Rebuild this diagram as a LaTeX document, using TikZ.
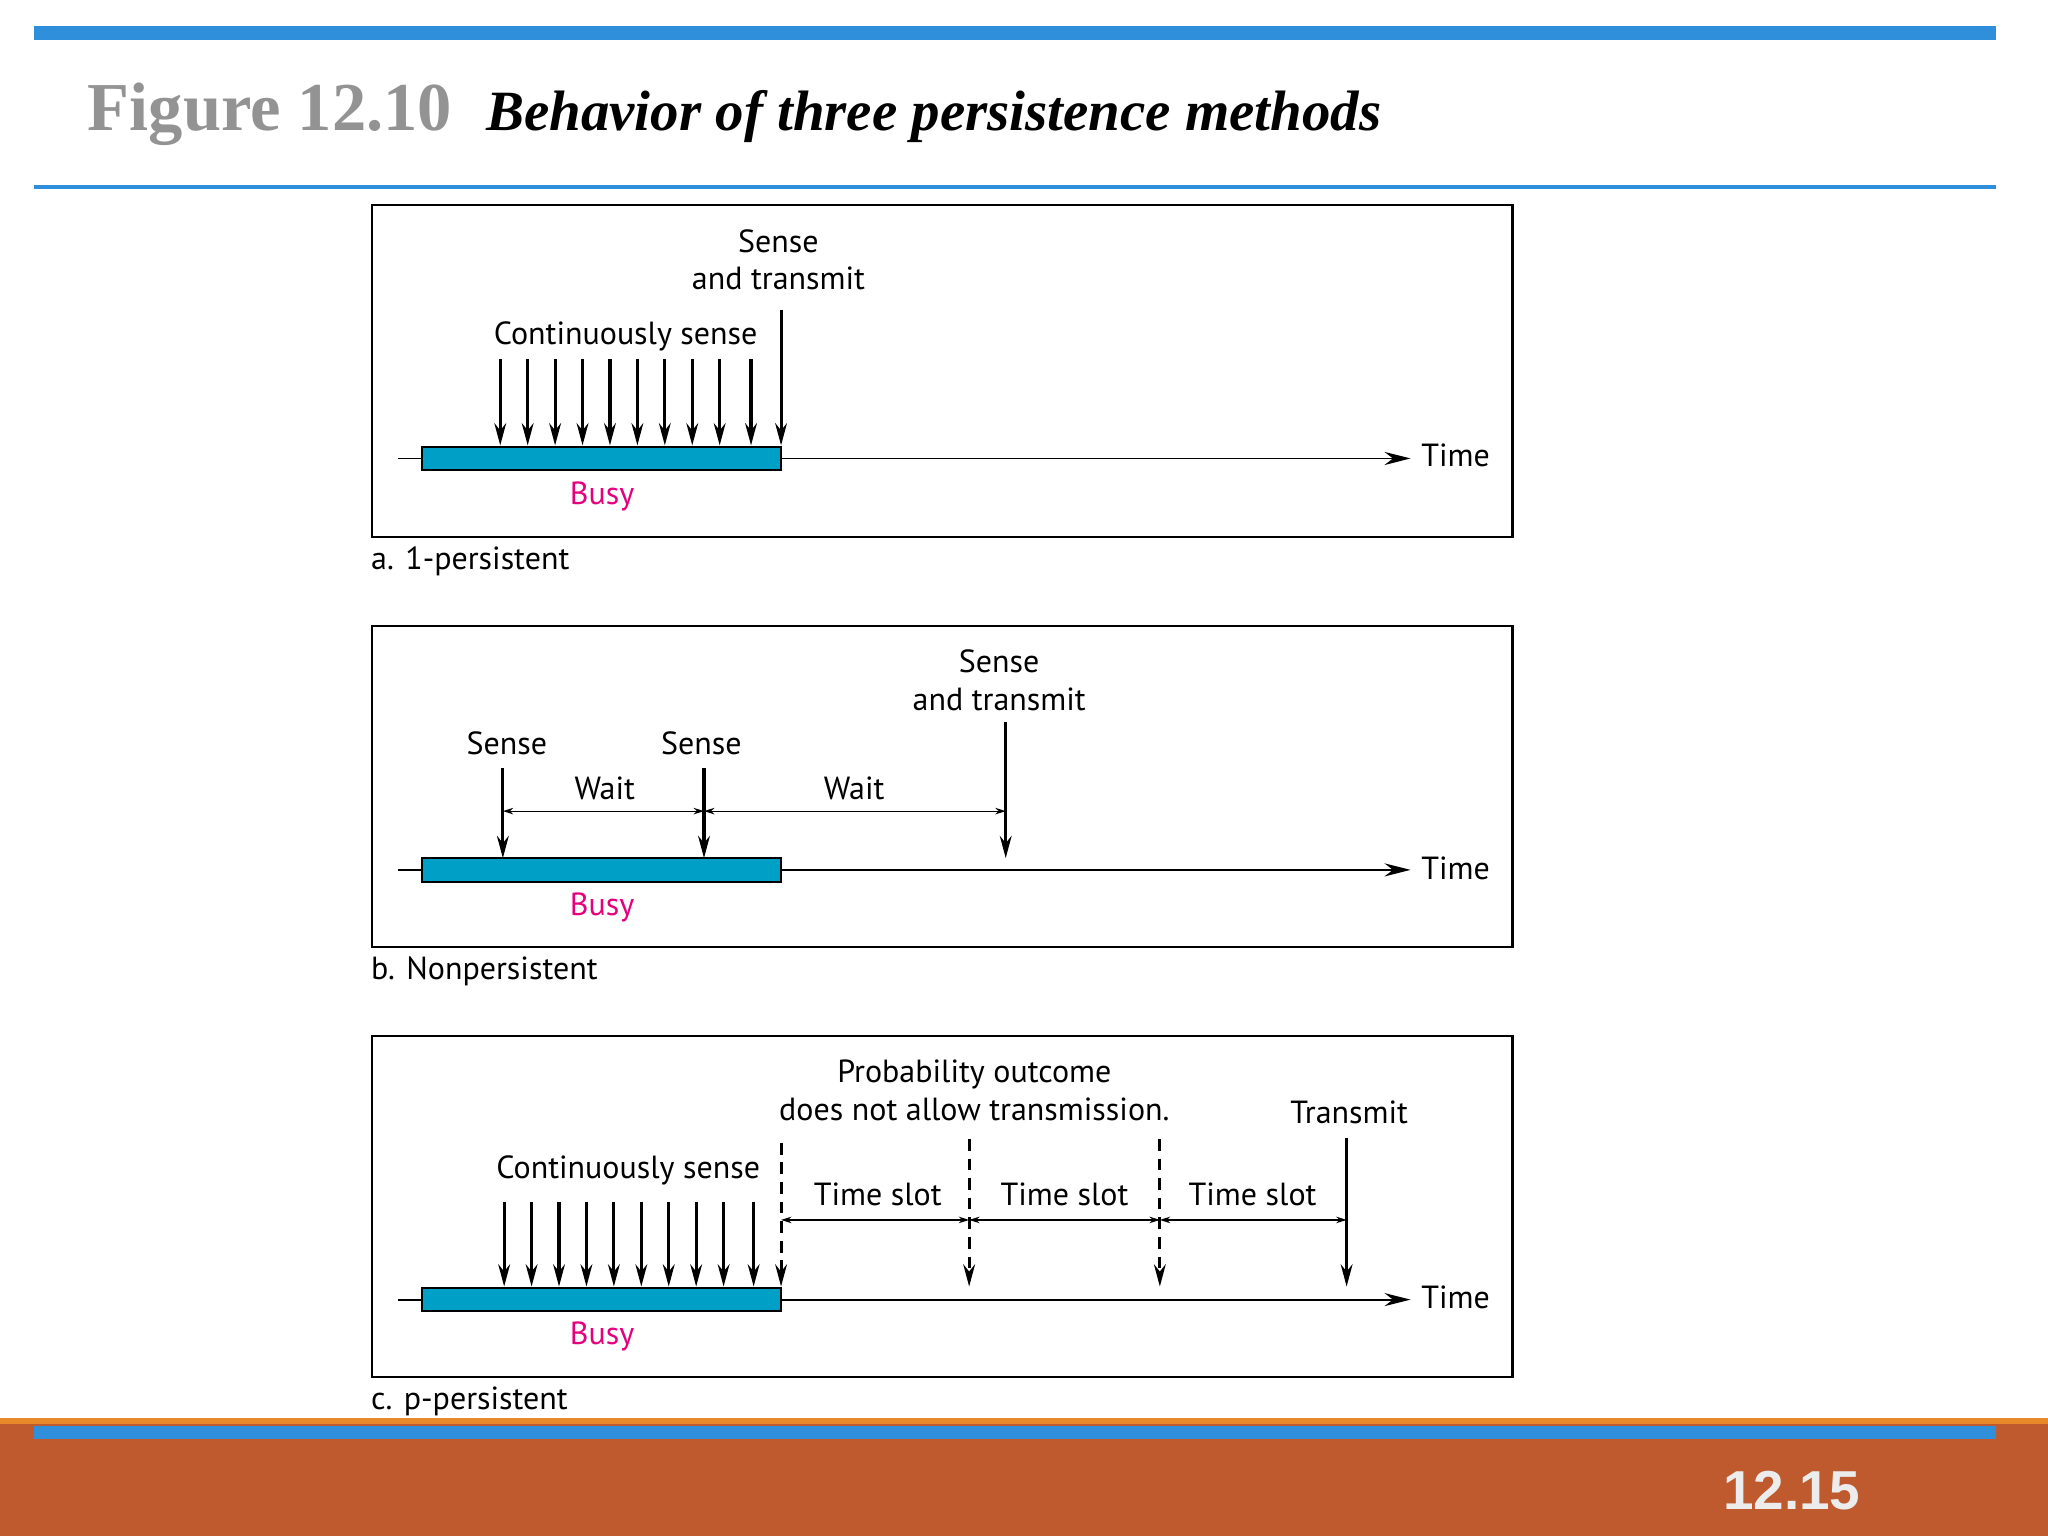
\documentclass[tikz,border=0pt]{standalone}
\usepackage{fontspec}
\setmainfont{PT Sans}
\newfontfamily\titlefont{Liberation Serif}
\newfontfamily\numfont{Liberation Sans}
\usetikzlibrary{arrows.meta}
\definecolor{barblue}{HTML}{2F8FDA}
\definecolor{busyc}{HTML}{00A0C6}
\definecolor{busyt}{HTML}{E5007E}
\definecolor{band}{HTML}{BE5A2E}
\definecolor{bandtop}{HTML}{E88A2A}
\begin{document}
\begin{tikzpicture}[x=1pt,y=-1pt,
  lbl/.style={font=\fontsize{24.5}{26}\selectfont,inner sep=0pt,anchor=base},
  busytxt/.style={lbl,text=busyt},
  panel/.style={draw,line width=1.6pt},
  busybox/.style={draw,line width=1.4pt,fill=busyc},
  tline/.style={line width=1.4pt,-{Stealth[length=20pt,width=10pt]}},
  sarr/.style={line width=2.4pt,-{Stealth[length=17pt,width=9pt]}},
  darr/.style={sarr,dashed,dash pattern=on 9pt off 6pt},
  dim/.style={line width=0.9pt,{Stealth[length=8pt,width=5pt]}-{Stealth[length=8pt,width=5pt]}}]
\useasboundingbox (0,0) rectangle (1568,1176);
% header
\fill[barblue] (26,20) rectangle (1528,31);
\fill[barblue] (26,141.5) rectangle (1528,144.5);
\node[anchor=base west,inner sep=0pt,text=gray!85,font=\titlefont\bfseries\fontsize{52.5}{54}\selectfont] (fig) at (67,100) {Figure 12.10};
\node[anchor=base west,inner sep=0pt,font=\titlefont\bfseries\itshape\fontsize{43.6}{46}\selectfont] (ttl) at (372,100) {Behavior of three persistence methods};
% footer
\fill[band] (0,1086) rectangle (1568,1176);
\fill[bandtop] (0,1086) rectangle (1568,1090);
\fill[barblue] (26,1092) rectangle (1528,1102);
\node[anchor=base west,inner sep=0pt,text=white!85!gray,font=\numfont\bfseries\fontsize{42}{46}\selectfont] (pg) at (1319,1156) {12.15};

% ===== panel a
\draw[panel] (285,157) rectangle (1158,411);
\coordinate (a0) at (305,351); \coordinate (a1) at (1080,351);
\draw[tline] (a0) -- (a1);
\node[lbl,anchor=west] (atime) at (1088,349) {Time};
\node[busybox,minimum width=275pt,minimum height=18pt,inner sep=0pt] (abusy) at (460.5,351) {};
\node[busytxt] (abt) at (461,386) {Busy};
\foreach \x [count=\i] in {383,404,425,446,467,488,509,530,551,575}{
  \coordinate (as\i) at (\x,275); \coordinate (ae\i) at (\x,341);
  \draw[sarr] (as\i) -- (ae\i);}
\coordinate (ats) at (598,237); \coordinate (ate) at (598,341);
\draw[sarr] (ats) -- (ate);
\node[lbl] (acs) at (479,264) {Continuously sense};
\node[lbl] (ast1) at (596,193) {Sense};
\node[lbl] (ast2) at (596,222) {and transmit};
\node[lbl,anchor=base west] (acap) at (284,436) {a. 1-persistent};

% ===== panel b
\draw[panel] (285,479) rectangle (1158,725);
\coordinate (b0) at (305,666); \coordinate (b1) at (1080,666);
\draw[tline] (b0) -- (b1);
\node[lbl,anchor=west] (btime) at (1088,665) {Time};
\node[busybox,minimum width=275pt,minimum height=18pt,inner sep=0pt] (bbusy) at (460.5,666) {};
\node[busytxt] (bbt) at (461,701) {Busy};
\coordinate (b1s) at (385,588); \coordinate (b1e) at (385,657);
\coordinate (b2s) at (539,588); \coordinate (b2e) at (539,657);
\coordinate (b3s) at (770,553); \coordinate (b3e) at (770,657);
\draw[sarr] (b1s) -- (b1e); \draw[sarr] (b2s) -- (b2e); \draw[sarr] (b3s) -- (b3e);
\coordinate (bw1) at (385,621); \coordinate (bw2) at (539,621); \coordinate (bw3) at (770,621);
\draw[dim] (bw1) -- (bw2); \draw[dim] (bw2) -- (bw3);
\node[lbl] (bwt1) at (463,612) {Wait};
\node[lbl] (bwt2) at (654,612) {Wait};
\node[lbl] (bs1) at (388,578) {Sense};
\node[lbl] (bs2) at (537,578) {Sense};
\node[lbl] (bst1) at (765,515) {Sense};
\node[lbl] (bst2) at (765,544) {and transmit};
\node[lbl,anchor=base west] (bcap) at (284,750) {b. Nonpersistent};

% ===== panel c
\draw[panel] (285,793) rectangle (1158,1054);
\coordinate (c0) at (305,995); \coordinate (c1) at (1080,995);
\draw[tline] (c0) -- (c1);
\node[lbl,anchor=west] (ctime) at (1088,993) {Time};
\node[busybox,minimum width=275pt,minimum height=18pt,inner sep=0pt] (cbusy) at (460.5,995) {};
\node[busytxt] (cbt) at (461,1029) {Busy};
\foreach \x [count=\i] in {386,407,428,449,470,491,512,533,554,577}{
  \coordinate (cs\i) at (\x,920); \coordinate (ce\i) at (\x,985);
  \draw[sarr] (cs\i) -- (ce\i);}
\coordinate (d1s) at (598,875); \coordinate (d1e) at (598,985);
\coordinate (d2s) at (742,872); \coordinate (d2e) at (742,985);
\coordinate (d3s) at (888,872); \coordinate (d3e) at (888,985);
\draw[darr] (d1s) -- (d1e); \draw[darr] (d2s) -- (d2e); \draw[darr] (d3s) -- (d3e);
\coordinate (trs) at (1031,871); \coordinate (tre) at (1031,985);
\draw[sarr] (trs) -- (tre);
\coordinate (t1) at (598,934); \coordinate (t2) at (742,934);
\coordinate (t3) at (888,934); \coordinate (t4) at (1031,934);
\draw[dim] (t1) -- (t2); \draw[dim] (t2) -- (t3); \draw[dim] (t3) -- (t4);
\node[lbl] (ts1) at (672,923) {Time slot};
\node[lbl] (ts2) at (815,923) {Time slot};
\node[lbl] (ts3) at (959,923) {Time slot};
\node[lbl] (ccs) at (481,902) {Continuously sense};
\node[lbl] (cp1) at (746,829) {Probability outcome};
\node[lbl] (cp2) at (746,858) {does not allow transmission.};
\node[lbl] (ctr) at (1033,860) {Transmit};
\node[lbl,anchor=base west] (ccap) at (284,1079) {c. p-persistent};
\end{tikzpicture}
\end{document}
